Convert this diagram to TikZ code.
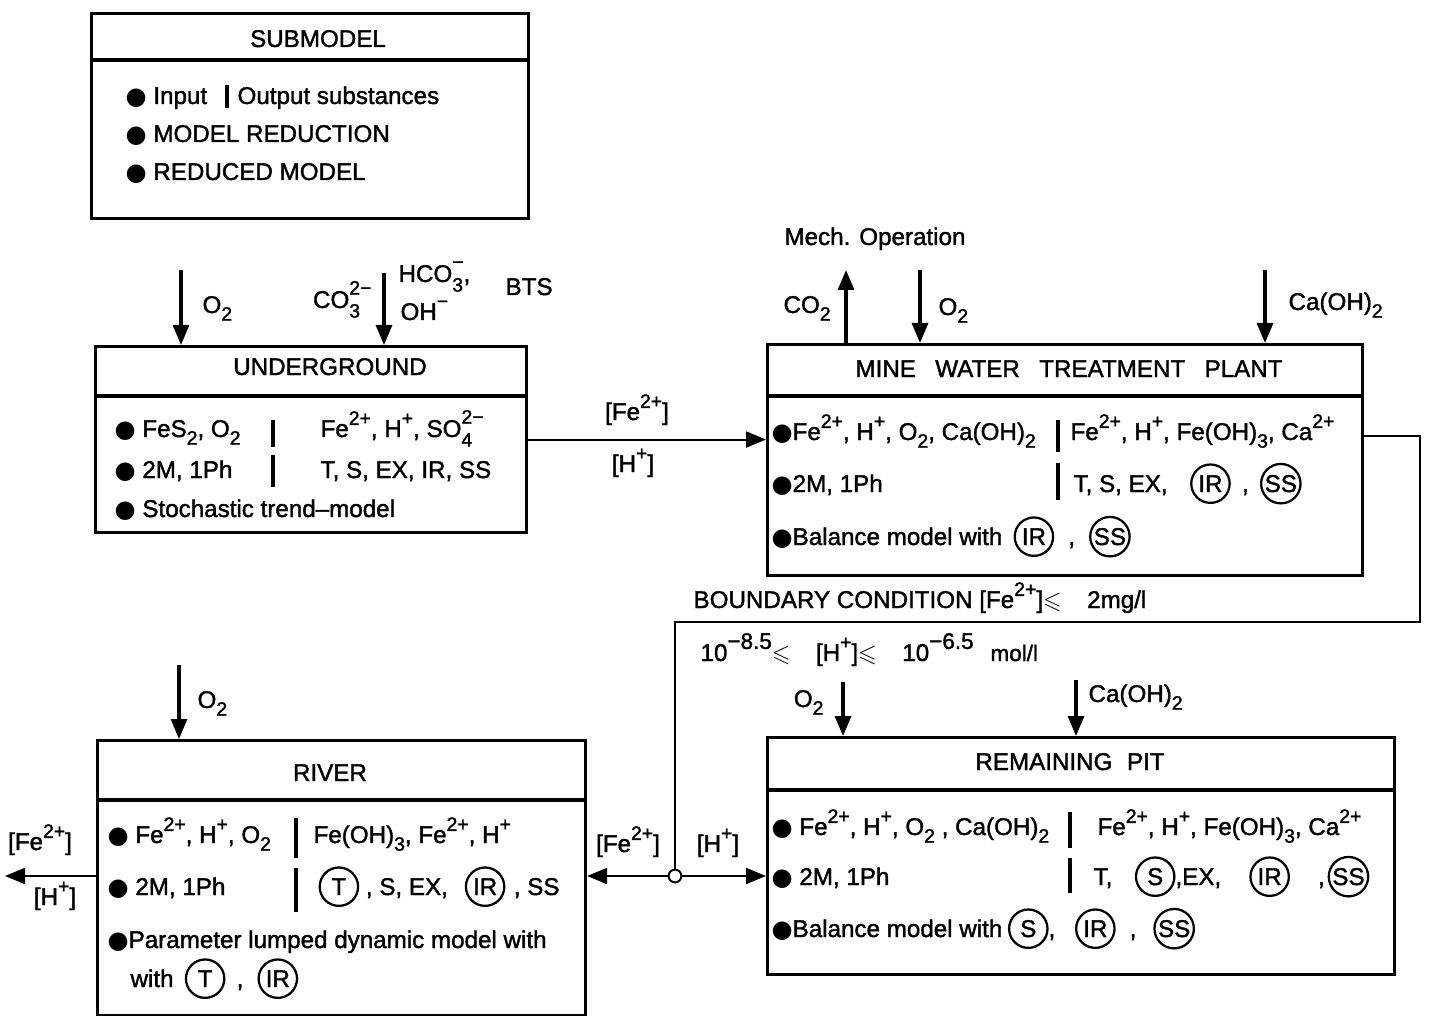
\documentclass[tikz,border=0pt]{standalone}
\usepackage{fontspec}
\usepackage{amssymb}
\setmainfont{Liberation Sans}[FakeBold=1.5]
\newfontfamily\symf{DejaVu Sans}
\usetikzlibrary{arrows.meta}

\newcommand\lbl{\fontsize{8.6}{10}\selectfont}
\newcommand\bul{{\symf\raisebox{-0.05ex}{●}}}
\newcommand\ring[1]{\tikz[baseline=(rg.base)]\node[draw,circle,line width=0.8pt,inner sep=0.4pt,minimum size=4.8mm](rg){#1};}
\newcommand\sps[1]{\raisebox{0.95ex}{\fontsize{6.9}{7}\selectfont #1}}
\newcommand\sbs[1]{\raisebox{-0.6ex}{\fontsize{6.9}{7}\selectfont #1}}
\newcommand\hi[1]{\raisebox{0.95ex}{\fontsize{8}{8}\selectfont #1}}
\newcommand\ion[2]{\rlap{\raisebox{-0.75ex}{\fontsize{6.9}{7}\selectfont #1}}\raisebox{1.05ex}{\fontsize{6.9}{7}\selectfont #2}}

\begin{document}
\begin{tikzpicture}[
    x=0.125mm,
    y=-0.125mm,
    box/.style={draw, line width=1.1pt, anchor=north west, inner sep=0pt},
    head/.style={anchor=base, inner sep=0pt, font=\lbl},
    item/.style={anchor=base west, inner sep=0pt, font=\lbl},
    rule/.style={line width=1.1pt},
    bar/.style={line width=1.3pt},
    feed/.style={-{Triangle[length=2.5mm,width=2mm]}, line width=1.1pt},
    flow/.style={-{Triangle[length=2.5mm,width=2mm]}, line width=0.7pt}
]
\useasboundingbox (0,0) rectangle (1432,1016);

% legend box
\node[box, minimum width=54.6mm, minimum height=25.6mm] (sub) at (90,12) {};
\draw[rule] (90,60) -- (527,60);
\node[head] (subT) at (318,47) {SUBMODEL};
\node[item] (sub1) at (125,104) {\bul\ Input};
\draw[bar] (227,85) -- (227,108);
\node[item] (sub1b) at (237,104) {Output substances};
\node[item] (sub2) at (125,142) {\bul\ MODEL REDUCTION};
\node[item] (sub3) at (125,180) {\bul\ REDUCED MODEL};

% underground
\node[box, minimum width=53.9mm, minimum height=23.25mm] (ug) at (94,345) {};
\draw[rule] (94,396) -- (525,396);
\node[head] (ugT) at (330,375) {UNDERGROUND};
\node[item] (ug1) at (114,437) {\bul\ FeS\sbs{2}, O\sbs{2}};
\node[item] (ug1b) at (320,437) {Fe\sps{2+}, H\sps{+}, SO\ion{4}{2−}};
\node[item] (ug2) at (114,478) {\bul\ 2M, 1Ph};
\node[item] (ug2b) at (320,478) {T, S, EX, IR, SS};
\node[item] (ug3) at (114,517) {\bul\ Stochastic trend–model};
\draw[bar] (273,420) -- (273,447);
\draw[bar] (273,455) -- (273,487);

\coordinate (o2u) at (181,270);
\coordinate (bsu) at (384,273);
\draw[feed] (o2u) -- (o2u |- ug.north);
\draw[feed] (bsu) -- (bsu |- ug.north);
\node[item] (ugO2) at (202,313) {O\sbs{2}};
\node[item, anchor=base east] (ugCO3) at (372,308) {CO\ion{3}{2−}};
\node[item] (ugHCO) at (398,282) {HCO\ion{3}{−},};
\node[item] (ugOH) at (400,320) {OH\sps{−}};
\node[item] (ugBTS) at (505,295) {BTS};

% mine water treatment plant
\node[box, minimum width=74.4mm, minimum height=28.9mm] (mw) at (766,343) {};
\draw[rule] (766,396) -- (1361,396);
\node[head] (mwT) at (1069,377) {MINE\hspace{0.8em}WATER\hspace{0.8em}TREATMENT\hspace{0.8em}PLANT};
\node[item] (mw1) at (771,440) {\bul Fe\sps{2+}, H\sps{+}, O\sbs{2}, Ca(OH)\sbs{2}};
\node[item] (mw1b) at (1070,440) {Fe\sps{2+}, H\sps{+}, Fe(OH)\sbs{3}, Ca\sps{2+}};
\node[item] (mw2) at (771,492) {\bul 2M, 1Ph};
\node[item] (mw2b) at (1073,492) {T, S, EX,\hspace{8pt}\ring{IR}\hspace{4pt},\hspace{4pt}\ring{SS}};
\node[item] (mw3) at (771,545) {\bul Balance model with\hspace{4pt}\ring{IR}\hspace{5pt},\hspace{5pt}\ring{SS}};
\draw[bar] (1058,420) -- (1058,452);
\draw[bar] (1058,463) -- (1058,500);

\coordinate (co2) at (846,270);
\coordinate (o2m) at (920,270);
\coordinate (cam) at (1265,270);
\draw[feed] (co2 |- mw.north) -- (co2);
\draw[feed] (o2m) -- (o2m |- mw.north);
\draw[feed] (cam) -- (cam |- mw.north);
\node[head] (mech) at (875,245) {Mech. Operation};
\node[item] (mwCO2) at (783,313) {CO\sbs{2}};
\node[item] (mwO2) at (938,315) {O\sbs{2}};
\node[item] (mwCa) at (1288,310) {Ca(OH)\sbs{2}};

\draw[flow] (ug.east) -- (ug.east -| mw.west);
\node[head] (ugFe) at (637,420) {[Fe\sps{2+}]};
\node[head] (ugH) at (633,472) {[H\sps{+}]};

% remaining pit
\node[box, minimum width=78.4mm, minimum height=29.6mm] (pt) at (766,736) {};
\draw[rule] (766,790) -- (1393,790);
\node[head] (ptT) at (1070,770) {REMAINING\hspace{0.6em}PIT};
\node[item] (pt1) at (771,835) {\bul\ Fe\sps{2+}, H\sps{+}, O\sbs{2} , Ca(OH)\sbs{2}};
\node[item] (pt1b) at (1097,835) {Fe\sps{2+}, H\sps{+}, Fe(OH)\sbs{3}, Ca\sps{2+}};
\node[item] (pt2) at (771,885) {\bul\ 2M, 1Ph};
\node[item] (pt2b) at (1093,885) {T,\hspace{8pt}\ring{S},EX,\hspace{10pt}\ring{IR}\hspace{10pt},\hspace{1pt}\ring{SS}};
\node[item] (pt3) at (771,937) {\bul Balance model with\hspace{2pt}\ring{S},\hspace{7pt}\ring{IR}\hspace{5pt},\hspace{6pt}\ring{SS}};
\draw[bar] (1070,812) -- (1070,848);
\draw[bar] (1070,858) -- (1070,893);

\coordinate (o2p) at (843,682);
\coordinate (cap) at (1076,680);
\draw[feed] (o2p) -- (o2p |- pt.north);
\draw[feed] (cap) -- (cap |- pt.north);
\node[item, anchor=base east] (ptO2) at (824,707) {O\sbs{2}};
\node[item] (ptCa) at (1088,702) {Ca(OH)\sbs{2}};

% river
\node[box, minimum width=61mm, minimum height=34.4mm] (rv) at (96,739) {};
\draw[rule] (96,800) -- (584,800);
\node[head] (rvT) at (330,781) {RIVER};
\node[item] (rv1) at (107,843) {\bul\ Fe\sps{2+}, H\sps{+}, O\sbs{2}};
\node[item] (rv1b) at (313,843) {Fe(OH)\sbs{3}, Fe\sps{2+}, H\sps{+}};
\node[item] (rv2) at (107,895) {\bul\ 2M, 1Ph};
\node[item] (rv2b) at (318,895) {\ring{T}\ , S, EX,\hspace{6pt}\ring{IR}\hspace{3pt}, SS};
\node[item] (rv3) at (107,948) {\bul Parameter lumped dynamic model with};
\node[item] (rv4) at (130,987) {with\hspace{4pt}\ring{T}\hspace{4pt},\hspace{5pt}\ring{IR}};
\draw[bar] (296,818) -- (296,858);
\draw[bar] (296,868) -- (296,912);

\coordinate (o2r) at (179,665);
\draw[feed] (o2r) -- (o2r |- rv.north);
\node[item] (rvO2) at (197,708) {O\sbs{2}};

\coordinate (sea) at (5,876);
\draw[flow] (rv.west |- sea) -- (sea);
\node[head] (rvFe) at (40,850) {[Fe\sps{2+}]};
\node[head] (rvH) at (55,905) {[H\sps{+}]};

% boundary condition feedback
\coordinate (fbk) at (1420,436);
\coordinate (bc) at (675,622);
\node[circle, draw, line width=0.7pt, inner sep=0pt, minimum size=1.6mm] (jn) at (675,876) {};
\draw[line width=0.7pt] (mw.east |- fbk) -- (fbk) |- (bc) -- (jn.north);
\draw[flow] (jn.west) -- (jn -| rv.east);
\draw[flow] (jn.east) -- (jn -| pt.west);
\node[item] (bc1) at (693,608) {BOUNDARY CONDITION [Fe\sps{2+}]$\leqslant$\hspace{9pt}2mg/l};
\node[item] (bc2) at (700,661) {10\hi{−8.5}$\leqslant$\hspace{9pt}[H\sps{+}]$\leqslant$\hspace{9pt}10\hi{−6.5}\hspace{6pt}{\fontsize{8}{8}\selectfont mol/l}};
\node[head] (jnFe) at (628,852) {[Fe\sps{2+}]};
\node[head] (jnH) at (718,852) {[H\sps{+}]};

\end{tikzpicture}
\end{document}
